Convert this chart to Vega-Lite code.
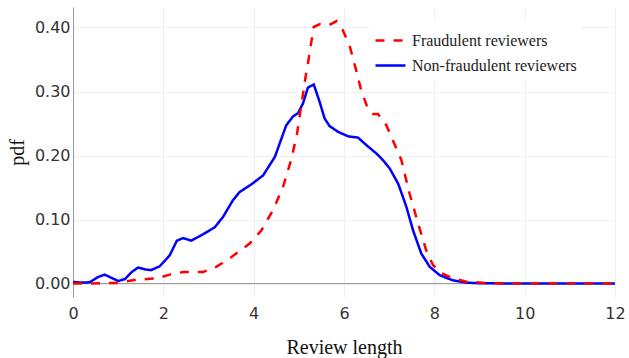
{
  "$schema": "https://vega.github.io/schema/vega-lite/v6.json",
  "width": 542,
  "height": 290,
  "autosize": {"type": "none"},
  "padding": {"left": 73, "top": 7, "right": 14, "bottom": 61},
  "background": "white",
  "config": {
    "view": {"stroke": null},
    "axis": {
      "labelFont": "DejaVu Sans",
      "labelFontSize": 16,
      "labelColor": "#333",
      "titleFont": "Liberation Serif",
      "titleFontSize": 20,
      "titleFontWeight": "normal",
      "titleColor": "#111",
      "ticks": false,
      "gridColor": "#efefef",
      "gridWidth": 1
    }
  },
  "datasets": {
    "curves": [
      {"s": "Non-fraudulent reviewers", "x": 0, "y": 0.0025},
      {"s": "Non-fraudulent reviewers", "x": 0.2, "y": 0.0015},
      {"s": "Non-fraudulent reviewers", "x": 0.37, "y": 0.002},
      {"s": "Non-fraudulent reviewers", "x": 0.55, "y": 0.010},
      {"s": "Non-fraudulent reviewers", "x": 0.70, "y": 0.014},
      {"s": "Non-fraudulent reviewers", "x": 0.85, "y": 0.009},
      {"s": "Non-fraudulent reviewers", "x": 1.0, "y": 0.004},
      {"s": "Non-fraudulent reviewers", "x": 1.15, "y": 0.007},
      {"s": "Non-fraudulent reviewers", "x": 1.3, "y": 0.018},
      {"s": "Non-fraudulent reviewers", "x": 1.44, "y": 0.025},
      {"s": "Non-fraudulent reviewers", "x": 1.6, "y": 0.022},
      {"s": "Non-fraudulent reviewers", "x": 1.73, "y": 0.021},
      {"s": "Non-fraudulent reviewers", "x": 1.92, "y": 0.027},
      {"s": "Non-fraudulent reviewers", "x": 2.14, "y": 0.044},
      {"s": "Non-fraudulent reviewers", "x": 2.30, "y": 0.067},
      {"s": "Non-fraudulent reviewers", "x": 2.44, "y": 0.071},
      {"s": "Non-fraudulent reviewers", "x": 2.62, "y": 0.067},
      {"s": "Non-fraudulent reviewers", "x": 2.88, "y": 0.077},
      {"s": "Non-fraudulent reviewers", "x": 3.14, "y": 0.088},
      {"s": "Non-fraudulent reviewers", "x": 3.32, "y": 0.104},
      {"s": "Non-fraudulent reviewers", "x": 3.54, "y": 0.130},
      {"s": "Non-fraudulent reviewers", "x": 3.69, "y": 0.143},
      {"s": "Non-fraudulent reviewers", "x": 3.95, "y": 0.155},
      {"s": "Non-fraudulent reviewers", "x": 4.21, "y": 0.169},
      {"s": "Non-fraudulent reviewers", "x": 4.47, "y": 0.198},
      {"s": "Non-fraudulent reviewers", "x": 4.72, "y": 0.247},
      {"s": "Non-fraudulent reviewers", "x": 4.87, "y": 0.261},
      {"s": "Non-fraudulent reviewers", "x": 4.98, "y": 0.266},
      {"s": "Non-fraudulent reviewers", "x": 5.09, "y": 0.281},
      {"s": "Non-fraudulent reviewers", "x": 5.20, "y": 0.306},
      {"s": "Non-fraudulent reviewers", "x": 5.33, "y": 0.311},
      {"s": "Non-fraudulent reviewers", "x": 5.46, "y": 0.284},
      {"s": "Non-fraudulent reviewers", "x": 5.57, "y": 0.258},
      {"s": "Non-fraudulent reviewers", "x": 5.68, "y": 0.246},
      {"s": "Non-fraudulent reviewers", "x": 5.87, "y": 0.237},
      {"s": "Non-fraudulent reviewers", "x": 6.09, "y": 0.230},
      {"s": "Non-fraudulent reviewers", "x": 6.31, "y": 0.228},
      {"s": "Non-fraudulent reviewers", "x": 6.50, "y": 0.216},
      {"s": "Non-fraudulent reviewers", "x": 6.72, "y": 0.203},
      {"s": "Non-fraudulent reviewers", "x": 6.86, "y": 0.193},
      {"s": "Non-fraudulent reviewers", "x": 7.01, "y": 0.180},
      {"s": "Non-fraudulent reviewers", "x": 7.20, "y": 0.156},
      {"s": "Non-fraudulent reviewers", "x": 7.38, "y": 0.120},
      {"s": "Non-fraudulent reviewers", "x": 7.53, "y": 0.083},
      {"s": "Non-fraudulent reviewers", "x": 7.71, "y": 0.047},
      {"s": "Non-fraudulent reviewers", "x": 7.90, "y": 0.026},
      {"s": "Non-fraudulent reviewers", "x": 8.12, "y": 0.013},
      {"s": "Non-fraudulent reviewers", "x": 8.41, "y": 0.005},
      {"s": "Non-fraudulent reviewers", "x": 8.71, "y": 0.0015},
      {"s": "Non-fraudulent reviewers", "x": 9.0, "y": 0.0005},
      {"s": "Non-fraudulent reviewers", "x": 10, "y": 0},
      {"s": "Non-fraudulent reviewers", "x": 12, "y": 0},
      {"s": "Fraudulent reviewers", "x": 0, "y": 0},
      {"s": "Fraudulent reviewers", "x": 0.4, "y": 0},
      {"s": "Fraudulent reviewers", "x": 0.96, "y": 0.001},
      {"s": "Fraudulent reviewers", "x": 1.4, "y": 0.006},
      {"s": "Fraudulent reviewers", "x": 1.85, "y": 0.008},
      {"s": "Fraudulent reviewers", "x": 2.14, "y": 0.014},
      {"s": "Fraudulent reviewers", "x": 2.44, "y": 0.018},
      {"s": "Fraudulent reviewers", "x": 2.88, "y": 0.018},
      {"s": "Fraudulent reviewers", "x": 3.17, "y": 0.026},
      {"s": "Fraudulent reviewers", "x": 3.5, "y": 0.041},
      {"s": "Fraudulent reviewers", "x": 3.91, "y": 0.0625},
      {"s": "Fraudulent reviewers", "x": 4.17, "y": 0.083},
      {"s": "Fraudulent reviewers", "x": 4.43, "y": 0.115},
      {"s": "Fraudulent reviewers", "x": 4.65, "y": 0.151},
      {"s": "Fraudulent reviewers", "x": 4.83, "y": 0.193},
      {"s": "Fraudulent reviewers", "x": 4.96, "y": 0.234},
      {"s": "Fraudulent reviewers", "x": 5.06, "y": 0.281},
      {"s": "Fraudulent reviewers", "x": 5.15, "y": 0.323},
      {"s": "Fraudulent reviewers", "x": 5.22, "y": 0.352},
      {"s": "Fraudulent reviewers", "x": 5.33, "y": 0.401},
      {"s": "Fraudulent reviewers", "x": 5.46, "y": 0.405},
      {"s": "Fraudulent reviewers", "x": 5.68, "y": 0.404},
      {"s": "Fraudulent reviewers", "x": 5.83, "y": 0.410},
      {"s": "Fraudulent reviewers", "x": 5.96, "y": 0.398},
      {"s": "Fraudulent reviewers", "x": 6.13, "y": 0.370},
      {"s": "Fraudulent reviewers", "x": 6.27, "y": 0.333},
      {"s": "Fraudulent reviewers", "x": 6.38, "y": 0.302},
      {"s": "Fraudulent reviewers", "x": 6.53, "y": 0.273},
      {"s": "Fraudulent reviewers", "x": 6.64, "y": 0.265},
      {"s": "Fraudulent reviewers", "x": 6.75, "y": 0.265},
      {"s": "Fraudulent reviewers", "x": 6.94, "y": 0.247},
      {"s": "Fraudulent reviewers", "x": 7.08, "y": 0.224},
      {"s": "Fraudulent reviewers", "x": 7.27, "y": 0.193},
      {"s": "Fraudulent reviewers", "x": 7.45, "y": 0.141},
      {"s": "Fraudulent reviewers", "x": 7.64, "y": 0.094},
      {"s": "Fraudulent reviewers", "x": 7.82, "y": 0.052},
      {"s": "Fraudulent reviewers", "x": 7.97, "y": 0.029},
      {"s": "Fraudulent reviewers", "x": 8.16, "y": 0.016},
      {"s": "Fraudulent reviewers", "x": 8.41, "y": 0.008},
      {"s": "Fraudulent reviewers", "x": 8.71, "y": 0.003},
      {"s": "Fraudulent reviewers", "x": 9.2, "y": 0.0005},
      {"s": "Fraudulent reviewers", "x": 10, "y": 0},
      {"s": "Fraudulent reviewers", "x": 12, "y": 0}
    ],
    "zero": [{"y": 0}]
  },
  "layer": [
    {
      "data": {"name": "zero"},
      "mark": {"type": "rule", "color": "#999", "strokeWidth": 1},
      "encoding": {
        "y": {"field": "y", "type": "quantitative", "scale": {"domain": [-0.021, 0.432], "nice": false, "zero": false}}
      }
    },
    {
      "data": {"name": "curves"},
      "mark": {"type": "line", "strokeWidth": 2.5, "clip": true},
      "encoding": {
        "x": {
          "field": "x", "type": "quantitative",
          "scale": {"domain": [0, 12], "nice": false},
          "axis": {"values": [0, 2, 4, 6, 8, 10, 12], "domain": false, "grid": true, "labelFlush": false, "labelPadding": 8, "title": "Review length", "titlePadding": 16}
        },
        "y": {
          "field": "y", "type": "quantitative",
          "scale": {"domain": [-0.021, 0.432], "nice": false, "zero": false},
          "axis": {"values": [0, 0.1, 0.2, 0.3, 0.4], "format": ".2f", "domain": true, "domainColor": "#999", "grid": true, "labelPadding": 3, "title": "pdf", "titlePadding": 7}
        },
        "color": {
          "field": "s", "type": "nominal",
          "scale": {"domain": ["Fraudulent reviewers", "Non-fraudulent reviewers"], "range": ["#ff0000", "#0000ff"]},
          "legend": {
            "title": null, "orient": "none", "legendX": 296, "legendY": 12,
            "padding": 5, "fillColor": "white", "symbolType": "stroke", "symbolSize": 900,
            "symbolStrokeWidth": 2.5, "labelFont": "Liberation Serif", "labelFontSize": 16,
            "labelColor": "#222", "labelOffset": 5, "rowPadding": -7, "labelLimit": 300
          }
        },
        "strokeDash": {
          "field": "s", "type": "nominal",
          "scale": {"domain": ["Fraudulent reviewers", "Non-fraudulent reviewers"], "range": [[9, 9], [1, 0]]},
          "legend": {
            "title": null, "orient": "none", "legendX": 296, "legendY": 12,
            "padding": 5, "fillColor": "white", "symbolType": "stroke", "symbolSize": 900,
            "symbolStrokeWidth": 2.5, "labelFont": "Liberation Serif", "labelFontSize": 16,
            "labelColor": "#222", "labelOffset": 5, "rowPadding": -7, "labelLimit": 300
          }
        }
      }
    }
  ]
}
